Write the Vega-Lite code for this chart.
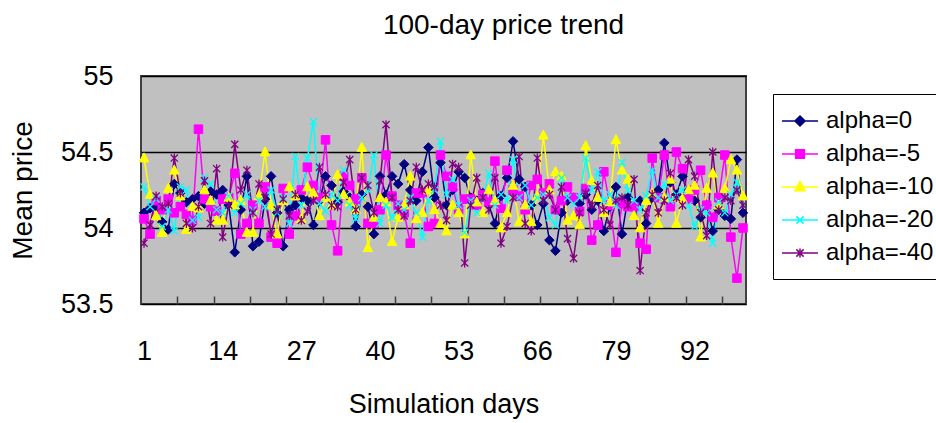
{
"$schema": "https://vega.github.io/schema/vega-lite/v6.json",
"width": 605, "height": 228,
"autosize": {"type": "none"},
"padding": {"left": 141, "top": 76, "right": 190, "bottom": 119},
"background": "white",
"config": {"view": {"fill": "#C0C0C0", "stroke": "#404040", "strokeWidth": 2}, "font": "Liberation Sans"},
"title": {"text": "100-day price trend", "fontSize": 28, "fontWeight": "normal", "font": "Liberation Sans", "color": "black", "anchor": "middle", "frame": "group", "dx": 60, "offset": 0, "baseline": "alphabetic"},
"data": {"values": [
{"day":1,"series":"alpha=0","price":54.10},{"day":2,"series":"alpha=0","price":54.13},{"day":3,"series":"alpha=0","price":54.14},{"day":4,"series":"alpha=0","price":54.04},{"day":5,"series":"alpha=0","price":53.99},{"day":6,"series":"alpha=0","price":54.29},{"day":7,"series":"alpha=0","price":54.23},{"day":8,"series":"alpha=0","price":54.17},{"day":9,"series":"alpha=0","price":54.19},{"day":10,"series":"alpha=0","price":54.21},
{"day":11,"series":"alpha=0","price":54.16},{"day":12,"series":"alpha=0","price":54.24},{"day":13,"series":"alpha=0","price":54.22},{"day":14,"series":"alpha=0","price":54.25},{"day":15,"series":"alpha=0","price":54.15},{"day":16,"series":"alpha=0","price":53.84},{"day":17,"series":"alpha=0","price":54.12},{"day":18,"series":"alpha=0","price":54.34},{"day":19,"series":"alpha=0","price":53.88},{"day":20,"series":"alpha=0","price":53.91},
{"day":21,"series":"alpha=0","price":54.19},{"day":22,"series":"alpha=0","price":54.34},{"day":23,"series":"alpha=0","price":54.10},{"day":24,"series":"alpha=0","price":53.88},{"day":25,"series":"alpha=0","price":54.12},{"day":26,"series":"alpha=0","price":54.15},{"day":27,"series":"alpha=0","price":54.20},{"day":28,"series":"alpha=0","price":54.18},{"day":29,"series":"alpha=0","price":54.02},{"day":30,"series":"alpha=0","price":54.18},
{"day":31,"series":"alpha=0","price":54.34},{"day":32,"series":"alpha=0","price":54.28},{"day":33,"series":"alpha=0","price":54.17},{"day":34,"series":"alpha=0","price":54.24},{"day":35,"series":"alpha=0","price":54.20},{"day":36,"series":"alpha=0","price":54.01},{"day":37,"series":"alpha=0","price":54.22},{"day":38,"series":"alpha=0","price":54.14},{"day":39,"series":"alpha=0","price":53.96},{"day":40,"series":"alpha=0","price":54.34},
{"day":41,"series":"alpha=0","price":54.22},{"day":42,"series":"alpha=0","price":54.34},{"day":43,"series":"alpha=0","price":54.29},{"day":44,"series":"alpha=0","price":54.42},{"day":45,"series":"alpha=0","price":54.25},{"day":46,"series":"alpha=0","price":54.18},{"day":47,"series":"alpha=0","price":54.37},{"day":48,"series":"alpha=0","price":54.53},{"day":49,"series":"alpha=0","price":54.20},{"day":50,"series":"alpha=0","price":54.43},
{"day":51,"series":"alpha=0","price":54.15},{"day":52,"series":"alpha=0","price":54.25},{"day":53,"series":"alpha=0","price":54.37},{"day":54,"series":"alpha=0","price":54.33},{"day":55,"series":"alpha=0","price":54.20},{"day":56,"series":"alpha=0","price":54.18},{"day":57,"series":"alpha=0","price":54.23},{"day":58,"series":"alpha=0","price":54.15},{"day":59,"series":"alpha=0","price":54.03},{"day":60,"series":"alpha=0","price":54.21},
{"day":61,"series":"alpha=0","price":54.33},{"day":62,"series":"alpha=0","price":54.57},{"day":63,"series":"alpha=0","price":54.32},{"day":64,"series":"alpha=0","price":54.27},{"day":65,"series":"alpha=0","price":54.15},{"day":66,"series":"alpha=0","price":54.02},{"day":67,"series":"alpha=0","price":54.16},{"day":68,"series":"alpha=0","price":53.92},{"day":69,"series":"alpha=0","price":53.85},{"day":70,"series":"alpha=0","price":54.10},
{"day":71,"series":"alpha=0","price":54.18},{"day":72,"series":"alpha=0","price":54.20},{"day":73,"series":"alpha=0","price":54.16},{"day":74,"series":"alpha=0","price":54.22},{"day":75,"series":"alpha=0","price":54.12},{"day":76,"series":"alpha=0","price":54.18},{"day":77,"series":"alpha=0","price":53.98},{"day":78,"series":"alpha=0","price":54.14},{"day":79,"series":"alpha=0","price":54.27},{"day":80,"series":"alpha=0","price":53.96},
{"day":81,"series":"alpha=0","price":54.20},{"day":82,"series":"alpha=0","price":54.15},{"day":83,"series":"alpha=0","price":54.18},{"day":84,"series":"alpha=0","price":54.03},{"day":85,"series":"alpha=0","price":54.20},{"day":86,"series":"alpha=0","price":54.25},{"day":87,"series":"alpha=0","price":54.56},{"day":88,"series":"alpha=0","price":54.30},{"day":89,"series":"alpha=0","price":54.22},{"day":90,"series":"alpha=0","price":54.34},
{"day":91,"series":"alpha=0","price":54.20},{"day":92,"series":"alpha=0","price":54.18},{"day":93,"series":"alpha=0","price":54.07},{"day":94,"series":"alpha=0","price":54.15},{"day":95,"series":"alpha=0","price":53.98},{"day":96,"series":"alpha=0","price":54.12},{"day":97,"series":"alpha=0","price":54.08},{"day":98,"series":"alpha=0","price":54.06},{"day":99,"series":"alpha=0","price":54.45},{"day":100,"series":"alpha=0","price":54.10},
{"day":1,"series":"alpha=-5","price":54.06},{"day":2,"series":"alpha=-5","price":53.96},{"day":3,"series":"alpha=-5","price":54.18},{"day":4,"series":"alpha=-5","price":54.12},{"day":5,"series":"alpha=-5","price":54.19},{"day":6,"series":"alpha=-5","price":54.10},{"day":7,"series":"alpha=-5","price":54.14},{"day":8,"series":"alpha=-5","price":54.09},{"day":9,"series":"alpha=-5","price":54.05},{"day":10,"series":"alpha=-5","price":54.65},
{"day":11,"series":"alpha=-5","price":54.19},{"day":12,"series":"alpha=-5","price":54.14},{"day":13,"series":"alpha=-5","price":54.11},{"day":14,"series":"alpha=-5","price":54.19},{"day":15,"series":"alpha=-5","price":54.20},{"day":16,"series":"alpha=-5","price":54.36},{"day":17,"series":"alpha=-5","price":53.96},{"day":18,"series":"alpha=-5","price":54.03},{"day":19,"series":"alpha=-5","price":54.15},{"day":20,"series":"alpha=-5","price":54.03},
{"day":21,"series":"alpha=-5","price":54.27},{"day":22,"series":"alpha=-5","price":53.94},{"day":23,"series":"alpha=-5","price":53.90},{"day":24,"series":"alpha=-5","price":54.26},{"day":25,"series":"alpha=-5","price":53.96},{"day":26,"series":"alpha=-5","price":54.08},{"day":27,"series":"alpha=-5","price":54.25},{"day":28,"series":"alpha=-5","price":54.40},{"day":29,"series":"alpha=-5","price":54.28},{"day":30,"series":"alpha=-5","price":54.20},
{"day":31,"series":"alpha=-5","price":54.58},{"day":32,"series":"alpha=-5","price":54.02},{"day":33,"series":"alpha=-5","price":53.85},{"day":34,"series":"alpha=-5","price":54.34},{"day":35,"series":"alpha=-5","price":54.28},{"day":36,"series":"alpha=-5","price":54.19},{"day":37,"series":"alpha=-5","price":54.33},{"day":38,"series":"alpha=-5","price":54.03},{"day":39,"series":"alpha=-5","price":54.03},{"day":40,"series":"alpha=-5","price":54.12},
{"day":41,"series":"alpha=-5","price":54.48},{"day":42,"series":"alpha=-5","price":54.21},{"day":43,"series":"alpha=-5","price":54.15},{"day":44,"series":"alpha=-5","price":54.10},{"day":45,"series":"alpha=-5","price":53.90},{"day":46,"series":"alpha=-5","price":54.23},{"day":47,"series":"alpha=-5","price":54.23},{"day":48,"series":"alpha=-5","price":54.01},{"day":49,"series":"alpha=-5","price":54.03},{"day":50,"series":"alpha=-5","price":54.48},
{"day":51,"series":"alpha=-5","price":54.34},{"day":52,"series":"alpha=-5","price":54.27},{"day":53,"series":"alpha=-5","price":54.12},{"day":54,"series":"alpha=-5","price":54.19},{"day":55,"series":"alpha=-5","price":54.19},{"day":56,"series":"alpha=-5","price":54.15},{"day":57,"series":"alpha=-5","price":54.22},{"day":58,"series":"alpha=-5","price":54.17},{"day":59,"series":"alpha=-5","price":54.44},{"day":60,"series":"alpha=-5","price":54.13},
{"day":61,"series":"alpha=-5","price":54.38},{"day":62,"series":"alpha=-5","price":54.25},{"day":63,"series":"alpha=-5","price":54.21},{"day":64,"series":"alpha=-5","price":54.12},{"day":65,"series":"alpha=-5","price":54.28},{"day":66,"series":"alpha=-5","price":54.32},{"day":67,"series":"alpha=-5","price":54.23},{"day":68,"series":"alpha=-5","price":54.29},{"day":69,"series":"alpha=-5","price":54.12},{"day":70,"series":"alpha=-5","price":54.18},
{"day":71,"series":"alpha=-5","price":54.27},{"day":72,"series":"alpha=-5","price":54.20},{"day":73,"series":"alpha=-5","price":54.11},{"day":74,"series":"alpha=-5","price":54.26},{"day":75,"series":"alpha=-5","price":53.92},{"day":76,"series":"alpha=-5","price":54.02},{"day":77,"series":"alpha=-5","price":54.37},{"day":78,"series":"alpha=-5","price":54.15},{"day":79,"series":"alpha=-5","price":53.84},{"day":80,"series":"alpha=-5","price":54.16},
{"day":81,"series":"alpha=-5","price":54.14},{"day":82,"series":"alpha=-5","price":54.14},{"day":83,"series":"alpha=-5","price":53.90},{"day":84,"series":"alpha=-5","price":53.86},{"day":85,"series":"alpha=-5","price":54.46},{"day":86,"series":"alpha=-5","price":54.20},{"day":87,"series":"alpha=-5","price":54.48},{"day":88,"series":"alpha=-5","price":54.14},{"day":89,"series":"alpha=-5","price":54.50},{"day":90,"series":"alpha=-5","price":54.39},
{"day":91,"series":"alpha=-5","price":54.19},{"day":92,"series":"alpha=-5","price":54.25},{"day":93,"series":"alpha=-5","price":54.38},{"day":94,"series":"alpha=-5","price":54.15},{"day":95,"series":"alpha=-5","price":54.07},{"day":96,"series":"alpha=-5","price":54.20},{"day":97,"series":"alpha=-5","price":54.48},{"day":98,"series":"alpha=-5","price":53.94},{"day":99,"series":"alpha=-5","price":53.67},{"day":100,"series":"alpha=-5","price":54.00},
{"day":1,"series":"alpha=-10","price":54.46},{"day":2,"series":"alpha=-10","price":54.22},{"day":3,"series":"alpha=-10","price":54.08},{"day":4,"series":"alpha=-10","price":53.97},{"day":5,"series":"alpha=-10","price":54.26},{"day":6,"series":"alpha=-10","price":54.38},{"day":7,"series":"alpha=-10","price":54.21},{"day":8,"series":"alpha=-10","price":53.99},{"day":9,"series":"alpha=-10","price":54.14},{"day":10,"series":"alpha=-10","price":54.13},
{"day":11,"series":"alpha=-10","price":54.25},{"day":12,"series":"alpha=-10","price":54.18},{"day":13,"series":"alpha=-10","price":54.05},{"day":14,"series":"alpha=-10","price":54.05},{"day":15,"series":"alpha=-10","price":54.20},{"day":16,"series":"alpha=-10","price":54.15},{"day":17,"series":"alpha=-10","price":54.18},{"day":18,"series":"alpha=-10","price":53.97},{"day":19,"series":"alpha=-10","price":53.97},{"day":20,"series":"alpha=-10","price":54.21},
{"day":21,"series":"alpha=-10","price":54.50},{"day":22,"series":"alpha=-10","price":54.15},{"day":23,"series":"alpha=-10","price":53.96},{"day":24,"series":"alpha=-10","price":54.18},{"day":25,"series":"alpha=-10","price":54.27},{"day":26,"series":"alpha=-10","price":54.21},{"day":27,"series":"alpha=-10","price":54.06},{"day":28,"series":"alpha=-10","price":54.27},{"day":29,"series":"alpha=-10","price":54.23},{"day":30,"series":"alpha=-10","price":54.08},
{"day":31,"series":"alpha=-10","price":54.20},{"day":32,"series":"alpha=-10","price":54.15},{"day":33,"series":"alpha=-10","price":54.35},{"day":34,"series":"alpha=-10","price":54.22},{"day":35,"series":"alpha=-10","price":54.17},{"day":36,"series":"alpha=-10","price":54.12},{"day":37,"series":"alpha=-10","price":54.53},{"day":38,"series":"alpha=-10","price":53.87},{"day":39,"series":"alpha=-10","price":54.07},{"day":40,"series":"alpha=-10","price":54.20},
{"day":41,"series":"alpha=-10","price":54.17},{"day":42,"series":"alpha=-10","price":53.91},{"day":43,"series":"alpha=-10","price":54.07},{"day":44,"series":"alpha=-10","price":54.15},{"day":45,"series":"alpha=-10","price":54.34},{"day":46,"series":"alpha=-10","price":54.06},{"day":47,"series":"alpha=-10","price":54.10},{"day":48,"series":"alpha=-10","price":54.25},{"day":49,"series":"alpha=-10","price":54.12},{"day":50,"series":"alpha=-10","price":54.03},
{"day":51,"series":"alpha=-10","price":53.98},{"day":52,"series":"alpha=-10","price":54.15},{"day":53,"series":"alpha=-10","price":54.10},{"day":54,"series":"alpha=-10","price":53.96},{"day":55,"series":"alpha=-10","price":54.48},{"day":56,"series":"alpha=-10","price":54.17},{"day":57,"series":"alpha=-10","price":54.10},{"day":58,"series":"alpha=-10","price":54.25},{"day":59,"series":"alpha=-10","price":54.18},{"day":60,"series":"alpha=-10","price":54.00},
{"day":61,"series":"alpha=-10","price":54.10},{"day":62,"series":"alpha=-10","price":54.28},{"day":63,"series":"alpha=-10","price":54.04},{"day":64,"series":"alpha=-10","price":54.15},{"day":65,"series":"alpha=-10","price":54.04},{"day":66,"series":"alpha=-10","price":54.21},{"day":67,"series":"alpha=-10","price":54.61},{"day":68,"series":"alpha=-10","price":54.25},{"day":69,"series":"alpha=-10","price":54.37},{"day":70,"series":"alpha=-10","price":54.34},
{"day":71,"series":"alpha=-10","price":54.05},{"day":72,"series":"alpha=-10","price":54.08},{"day":73,"series":"alpha=-10","price":54.02},{"day":74,"series":"alpha=-10","price":54.54},{"day":75,"series":"alpha=-10","price":54.31},{"day":76,"series":"alpha=-10","price":54.20},{"day":77,"series":"alpha=-10","price":54.10},{"day":78,"series":"alpha=-10","price":54.17},{"day":79,"series":"alpha=-10","price":54.58},{"day":80,"series":"alpha=-10","price":54.38},
{"day":81,"series":"alpha=-10","price":54.32},{"day":82,"series":"alpha=-10","price":54.08},{"day":83,"series":"alpha=-10","price":54.00},{"day":84,"series":"alpha=-10","price":54.18},{"day":85,"series":"alpha=-10","price":54.23},{"day":86,"series":"alpha=-10","price":54.03},{"day":87,"series":"alpha=-10","price":54.20},{"day":88,"series":"alpha=-10","price":54.32},{"day":89,"series":"alpha=-10","price":54.03},{"day":90,"series":"alpha=-10","price":54.19},
{"day":91,"series":"alpha=-10","price":54.25},{"day":92,"series":"alpha=-10","price":54.28},{"day":93,"series":"alpha=-10","price":53.94},{"day":94,"series":"alpha=-10","price":54.26},{"day":95,"series":"alpha=-10","price":54.36},{"day":96,"series":"alpha=-10","price":54.15},{"day":97,"series":"alpha=-10","price":54.26},{"day":98,"series":"alpha=-10","price":54.45},{"day":99,"series":"alpha=-10","price":54.38},{"day":100,"series":"alpha=-10","price":54.21},
{"day":1,"series":"alpha=-20","price":54.27},{"day":2,"series":"alpha=-20","price":54.14},{"day":3,"series":"alpha=-20","price":54.19},{"day":4,"series":"alpha=-20","price":54.01},{"day":5,"series":"alpha=-20","price":54.12},{"day":6,"series":"alpha=-20","price":53.98},{"day":7,"series":"alpha=-20","price":54.27},{"day":8,"series":"alpha=-20","price":54.25},{"day":9,"series":"alpha=-20","price":54.05},{"day":10,"series":"alpha=-20","price":54.07},
{"day":11,"series":"alpha=-20","price":54.33},{"day":12,"series":"alpha=-20","price":54.29},{"day":13,"series":"alpha=-20","price":54.12},{"day":14,"series":"alpha=-20","price":54.10},{"day":15,"series":"alpha=-20","price":54.21},{"day":16,"series":"alpha=-20","price":54.10},{"day":17,"series":"alpha=-20","price":54.16},{"day":18,"series":"alpha=-20","price":54.22},{"day":19,"series":"alpha=-20","price":54.12},{"day":20,"series":"alpha=-20","price":54.18},
{"day":21,"series":"alpha=-20","price":54.14},{"day":22,"series":"alpha=-20","price":54.25},{"day":23,"series":"alpha=-20","price":54.10},{"day":24,"series":"alpha=-20","price":54.20},{"day":25,"series":"alpha=-20","price":54.03},{"day":26,"series":"alpha=-20","price":54.47},{"day":27,"series":"alpha=-20","price":54.15},{"day":28,"series":"alpha=-20","price":54.46},{"day":29,"series":"alpha=-20","price":54.70},{"day":30,"series":"alpha=-20","price":54.16},
{"day":31,"series":"alpha=-20","price":54.11},{"day":32,"series":"alpha=-20","price":54.22},{"day":33,"series":"alpha=-20","price":54.18},{"day":34,"series":"alpha=-20","price":54.38},{"day":35,"series":"alpha=-20","price":54.15},{"day":36,"series":"alpha=-20","price":54.06},{"day":37,"series":"alpha=-20","price":54.20},{"day":38,"series":"alpha=-20","price":54.25},{"day":39,"series":"alpha=-20","price":54.48},{"day":40,"series":"alpha=-20","price":54.03},
{"day":41,"series":"alpha=-20","price":54.15},{"day":42,"series":"alpha=-20","price":54.07},{"day":43,"series":"alpha=-20","price":54.16},{"day":44,"series":"alpha=-20","price":54.12},{"day":45,"series":"alpha=-20","price":54.20},{"day":46,"series":"alpha=-20","price":54.10},{"day":47,"series":"alpha=-20","price":53.94},{"day":48,"series":"alpha=-20","price":54.18},{"day":49,"series":"alpha=-20","price":54.25},{"day":50,"series":"alpha=-20","price":54.57},
{"day":51,"series":"alpha=-20","price":54.22},{"day":52,"series":"alpha=-20","price":54.32},{"day":53,"series":"alpha=-20","price":54.15},{"day":54,"series":"alpha=-20","price":53.97},{"day":55,"series":"alpha=-20","price":54.18},{"day":56,"series":"alpha=-20","price":54.10},{"day":57,"series":"alpha=-20","price":54.20},{"day":58,"series":"alpha=-20","price":54.36},{"day":59,"series":"alpha=-20","price":54.15},{"day":60,"series":"alpha=-20","price":54.22},
{"day":61,"series":"alpha=-20","price":54.18},{"day":62,"series":"alpha=-20","price":54.45},{"day":63,"series":"alpha=-20","price":54.20},{"day":64,"series":"alpha=-20","price":54.28},{"day":65,"series":"alpha=-20","price":54.15},{"day":66,"series":"alpha=-20","price":54.20},{"day":67,"series":"alpha=-20","price":54.22},{"day":68,"series":"alpha=-20","price":54.07},{"day":69,"series":"alpha=-20","price":54.02},{"day":70,"series":"alpha=-20","price":54.33},
{"day":71,"series":"alpha=-20","price":54.20},{"day":72,"series":"alpha=-20","price":54.16},{"day":73,"series":"alpha=-20","price":54.20},{"day":74,"series":"alpha=-20","price":54.46},{"day":75,"series":"alpha=-20","price":54.25},{"day":76,"series":"alpha=-20","price":54.37},{"day":77,"series":"alpha=-20","price":54.18},{"day":78,"series":"alpha=-20","price":54.22},{"day":79,"series":"alpha=-20","price":54.15},{"day":80,"series":"alpha=-20","price":54.43},
{"day":81,"series":"alpha=-20","price":54.25},{"day":82,"series":"alpha=-20","price":54.18},{"day":83,"series":"alpha=-20","price":54.12},{"day":84,"series":"alpha=-20","price":54.21},{"day":85,"series":"alpha=-20","price":54.38},{"day":86,"series":"alpha=-20","price":54.20},{"day":87,"series":"alpha=-20","price":54.29},{"day":88,"series":"alpha=-20","price":54.18},{"day":89,"series":"alpha=-20","price":54.22},{"day":90,"series":"alpha=-20","price":54.25},
{"day":91,"series":"alpha=-20","price":54.15},{"day":92,"series":"alpha=-20","price":54.01},{"day":93,"series":"alpha=-20","price":54.12},{"day":94,"series":"alpha=-20","price":54.10},{"day":95,"series":"alpha=-20","price":53.90},{"day":96,"series":"alpha=-20","price":54.17},{"day":97,"series":"alpha=-20","price":54.10},{"day":98,"series":"alpha=-20","price":54.22},{"day":99,"series":"alpha=-20","price":54.30},{"day":100,"series":"alpha=-20","price":54.15},
{"day":1,"series":"alpha=-40","price":53.90},{"day":2,"series":"alpha=-40","price":54.02},{"day":3,"series":"alpha=-40","price":54.21},{"day":4,"series":"alpha=-40","price":54.14},{"day":5,"series":"alpha=-40","price":54.16},{"day":6,"series":"alpha=-40","price":54.46},{"day":7,"series":"alpha=-40","price":54.23},{"day":8,"series":"alpha=-40","price":54.03},{"day":9,"series":"alpha=-40","price":54.00},{"day":10,"series":"alpha=-40","price":54.14},
{"day":11,"series":"alpha=-40","price":54.31},{"day":12,"series":"alpha=-40","price":54.03},{"day":13,"series":"alpha=-40","price":54.39},{"day":14,"series":"alpha=-40","price":53.94},{"day":15,"series":"alpha=-40","price":54.15},{"day":16,"series":"alpha=-40","price":54.55},{"day":17,"series":"alpha=-40","price":54.25},{"day":18,"series":"alpha=-40","price":54.38},{"day":19,"series":"alpha=-40","price":54.10},{"day":20,"series":"alpha=-40","price":54.29},
{"day":21,"series":"alpha=-40","price":54.20},{"day":22,"series":"alpha=-40","price":53.96},{"day":23,"series":"alpha=-40","price":54.12},{"day":24,"series":"alpha=-40","price":54.19},{"day":25,"series":"alpha=-40","price":54.08},{"day":26,"series":"alpha=-40","price":54.22},{"day":27,"series":"alpha=-40","price":54.05},{"day":28,"series":"alpha=-40","price":54.11},{"day":29,"series":"alpha=-40","price":54.18},{"day":30,"series":"alpha=-40","price":54.40},
{"day":31,"series":"alpha=-40","price":54.22},{"day":32,"series":"alpha=-40","price":54.15},{"day":33,"series":"alpha=-40","price":54.14},{"day":34,"series":"alpha=-40","price":54.30},{"day":35,"series":"alpha=-40","price":54.45},{"day":36,"series":"alpha=-40","price":54.12},{"day":37,"series":"alpha=-40","price":54.33},{"day":38,"series":"alpha=-40","price":54.28},{"day":39,"series":"alpha=-40","price":54.10},{"day":40,"series":"alpha=-40","price":54.31},
{"day":41,"series":"alpha=-40","price":54.68},{"day":42,"series":"alpha=-40","price":54.20},{"day":43,"series":"alpha=-40","price":54.12},{"day":44,"series":"alpha=-40","price":54.08},{"day":45,"series":"alpha=-40","price":54.18},{"day":46,"series":"alpha=-40","price":54.40},{"day":47,"series":"alpha=-40","price":54.25},{"day":48,"series":"alpha=-40","price":54.29},{"day":49,"series":"alpha=-40","price":54.27},{"day":50,"series":"alpha=-40","price":54.15},
{"day":51,"series":"alpha=-40","price":54.05},{"day":52,"series":"alpha=-40","price":54.42},{"day":53,"series":"alpha=-40","price":54.40},{"day":54,"series":"alpha=-40","price":53.77},{"day":55,"series":"alpha=-40","price":54.15},{"day":56,"series":"alpha=-40","price":54.33},{"day":57,"series":"alpha=-40","price":54.20},{"day":58,"series":"alpha=-40","price":54.12},{"day":59,"series":"alpha=-40","price":54.33},{"day":60,"series":"alpha=-40","price":53.90},
{"day":61,"series":"alpha=-40","price":54.01},{"day":62,"series":"alpha=-40","price":54.20},{"day":63,"series":"alpha=-40","price":54.47},{"day":64,"series":"alpha=-40","price":54.03},{"day":65,"series":"alpha=-40","price":53.98},{"day":66,"series":"alpha=-40","price":54.46},{"day":67,"series":"alpha=-40","price":54.18},{"day":68,"series":"alpha=-40","price":54.22},{"day":69,"series":"alpha=-40","price":54.12},{"day":70,"series":"alpha=-40","price":54.27},
{"day":71,"series":"alpha=-40","price":53.93},{"day":72,"series":"alpha=-40","price":53.80},{"day":73,"series":"alpha=-40","price":54.10},{"day":74,"series":"alpha=-40","price":54.23},{"day":75,"series":"alpha=-40","price":54.15},{"day":76,"series":"alpha=-40","price":54.28},{"day":77,"series":"alpha=-40","price":54.12},{"day":78,"series":"alpha=-40","price":54.02},{"day":79,"series":"alpha=-40","price":54.18},{"day":80,"series":"alpha=-40","price":54.20},
{"day":81,"series":"alpha=-40","price":54.15},{"day":82,"series":"alpha=-40","price":54.32},{"day":83,"series":"alpha=-40","price":53.72},{"day":84,"series":"alpha=-40","price":54.10},{"day":85,"series":"alpha=-40","price":54.22},{"day":86,"series":"alpha=-40","price":54.10},{"day":87,"series":"alpha=-40","price":54.18},{"day":88,"series":"alpha=-40","price":54.36},{"day":89,"series":"alpha=-40","price":54.20},{"day":90,"series":"alpha=-40","price":54.15},
{"day":91,"series":"alpha=-40","price":54.45},{"day":92,"series":"alpha=-40","price":54.34},{"day":93,"series":"alpha=-40","price":54.10},{"day":94,"series":"alpha=-40","price":53.95},{"day":95,"series":"alpha=-40","price":54.50},{"day":96,"series":"alpha=-40","price":54.12},{"day":97,"series":"alpha=-40","price":54.20},{"day":98,"series":"alpha=-40","price":54.18},{"day":99,"series":"alpha=-40","price":54.25},{"day":100,"series":"alpha=-40","price":54.15}
]},
"encoding": {
  "x": {"field": "day", "type": "quantitative",
    "scale": {"domain": [0.5, 100.5], "nice": false, "zero": false},
    "axis": {"values": [1,6.5,12.5,14,18.5,24.5,27,30.5,36.5,40,42.5,48.5,53,54.5,60.5,66,66.5,72.5,78.5,79,84.5,90.5,92,96.5],
      "labelExpr": "datum.value % 1 == 0 ? '' + datum.value : ''",
      "tickOpacity": {"condition": {"test": "datum.value % 1 != 0", "value": 1}, "value": 0},
      "tickSize": -8, "tickColor": "#404040", "tickWidth": 1.5,
      "domain": false, "grid": false, "labelOverlap": false, "labelFlush": false,
      "labelFontSize": 27, "labelColor": "black", "labelFont": "Liberation Sans", "labelPadding": 42,
      "title": "Simulation days", "titleFontSize": 27, "titleFontWeight": "normal", "titleColor": "black", "titleFont": "Liberation Sans", "titlePadding": 27}},
  "y": {"field": "price", "type": "quantitative",
    "scale": {"domain": [53.5, 55], "nice": false, "zero": false},
    "axis": {"values": [53.5, 54, 54.5, 55], "format": "~g", "ticks": false, "domain": false,
      "grid": true, "gridColor": "black", "gridWidth": 1.5, "labelFlush": false,
      "labelFontSize": 27, "labelColor": "black", "labelFont": "Liberation Sans", "labelPadding": 28,
      "title": "Mean price", "titleFontSize": 28, "titleFontWeight": "normal", "titleColor": "black", "titleFont": "Liberation Sans", "titlePadding": 23}}
},
"layer": [
  {"mark": {"type": "line", "strokeWidth": 1.5},
   "encoding": {
     "color": {"field": "series", "type": "nominal",
       "scale": {"domain": ["alpha=0", "alpha=-5", "alpha=-10", "alpha=-20", "alpha=-40"], "range": ["#000080", "#FF00FF", "#FFFF00", "#00FFFF", "#800080"]},
       "legend": {"title": null, "orient": "none", "legendX": 632, "legendY": 18,
         "labelFontSize": 24, "labelFont": "Liberation Sans", "labelColor": "black", "labelOffset": 13, "labelLimit": 0,
         "symbolSize": 576, "symbolStrokeWidth": 1.5, "padding": 14, "rowPadding": 8,
         "strokeColor": "black", "fillColor": "white",
         "encode": {"symbols": {"update": {
           "shape": {"signal": "datum.value === 'alpha=0' ? 'M-1.5,0H1.5M0,-0.42L0.42,0L0,0.42L-0.42,0Z' : datum.value === 'alpha=-5' ? 'M-1.5,0H1.5M-0.36,-0.36H0.36V0.36H-0.36Z' : datum.value === 'alpha=-10' ? 'M-1.5,0H1.5M0,-0.46L0.42,0.32H-0.42Z' : datum.value === 'alpha=-20' ? 'M-1.5,0H1.5M-0.3,-0.3L0.3,0.3M-0.3,0.3L0.3,-0.3' : 'M-1.5,0H1.5M-0.3,-0.3L0.3,0.3M-0.3,0.3L0.3,-0.3M0,-0.38V0.38'"},
           "fill": {"scale": "color", "field": "value"},
           "stroke": {"scale": "color", "field": "value"},
           "strokeWidth": {"value": 1.5},
           "opacity": {"value": 1}}}}}}
   }},
  {"transform": [{"filter": {"field": "series", "equal": "alpha=0"}}],
   "mark": {"type": "point", "shape": "M0,-1L1,0L0,1L-1,0Z", "fill": "#000080", "stroke": "#000080", "fillOpacity": 1, "opacity": 1, "size": 90, "strokeWidth": 1}},
  {"transform": [{"filter": {"field": "series", "equal": "alpha=-5"}}],
   "mark": {"type": "point", "shape": "M-0.9,-0.9H0.9V0.9H-0.9Z", "fill": "#FF00FF", "stroke": "#FF00FF", "fillOpacity": 1, "opacity": 1, "size": 90, "strokeWidth": 1}},
  {"transform": [{"filter": {"field": "series", "equal": "alpha=-10"}}],
   "mark": {"type": "point", "shape": "M0,-1.1L1,0.8H-1Z", "fill": "#FFFF00", "stroke": "#FFFF00", "fillOpacity": 1, "opacity": 1, "size": 90, "strokeWidth": 1}},
  {"transform": [{"filter": {"field": "series", "equal": "alpha=-20"}}],
   "mark": {"type": "point", "shape": "M-0.8,-0.8L0.8,0.8M-0.8,0.8L0.8,-0.8", "filled": false, "stroke": "#00FFFF", "opacity": 1, "size": 80, "strokeWidth": 1.3}},
  {"transform": [{"filter": {"field": "series", "equal": "alpha=-40"}}],
   "mark": {"type": "point", "shape": "M-0.8,-0.8L0.8,0.8M-0.8,0.8L0.8,-0.8M0,-1V1", "filled": false, "stroke": "#800080", "opacity": 1, "size": 80, "strokeWidth": 1.3}}
]
}
